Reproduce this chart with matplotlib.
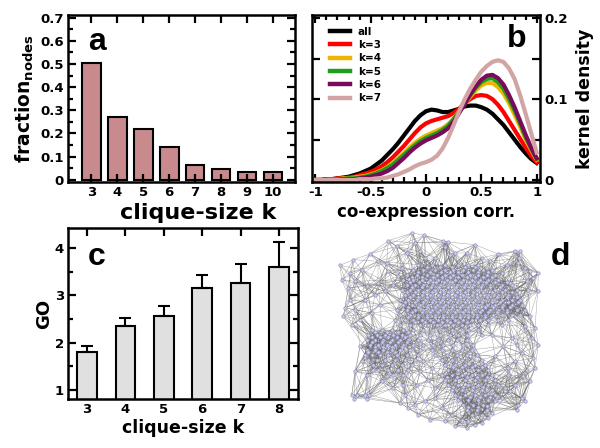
import numpy as np
import matplotlib
matplotlib.use("Agg")
import matplotlib.pyplot as plt
from matplotlib.ticker import MultipleLocator, FixedLocator, FuncFormatter
from matplotlib.collections import LineCollection

plt.rcParams['font.family'] = ['DejaVu Sans']
plt.rcParams['font.weight'] = 'bold'
plt.rcParams['axes.unicode_minus'] = False
plt.rcParams['mathtext.fontset'] = 'custom'
plt.rcParams['mathtext.rm'] = 'DejaVu Sans:bold'
plt.rcParams['mathtext.bf'] = 'DejaVu Sans:bold'
plt.rcParams['mathtext.it'] = 'DejaVu Sans:bold'

# ---------------- data ----------------
# panel a
k_a = [3, 4, 5, 6, 7, 8, 9, 10]
frac_nodes = [0.505, 0.270, 0.220, 0.140, 0.065, 0.045, 0.035, 0.035]

# panel b (kernel density of co-expression correlation)
corr = [-1.00, -0.95, -0.90, -0.85, -0.80, -0.75, -0.70, -0.65, -0.60, -0.55, -0.50,
        -0.45, -0.40, -0.35, -0.30, -0.25, -0.20, -0.15, -0.10, -0.05, 0.00,
        0.05, 0.10, 0.15, 0.20, 0.25, 0.30, 0.35, 0.40, 0.45, 0.50,
        0.55, 0.60, 0.65, 0.70, 0.75, 0.80, 0.85, 0.90, 0.95, 1.00]
dens_all = [0.000, 0.000, 0.001, 0.001, 0.002, 0.003, 0.004, 0.006, 0.008, 0.011, 0.014,
            0.019, 0.024, 0.031, 0.038, 0.046, 0.055, 0.064, 0.073, 0.080, 0.085,
            0.087, 0.086, 0.084, 0.084, 0.086, 0.088, 0.091, 0.092, 0.092, 0.090,
            0.087, 0.082, 0.075, 0.068, 0.059, 0.050, 0.041, 0.033, 0.026, 0.021]
dens_k3 = [0.000, 0.000, 0.001, 0.001, 0.002, 0.002, 0.003, 0.004, 0.006, 0.008, 0.010,
           0.013, 0.017, 0.022, 0.028, 0.035, 0.042, 0.050, 0.058, 0.065, 0.070,
           0.073, 0.075, 0.077, 0.079, 0.083, 0.088, 0.095, 0.100, 0.104, 0.105,
           0.104, 0.100, 0.093, 0.084, 0.073, 0.062, 0.051, 0.040, 0.030, 0.022]
dens_k4 = [0.000, 0.000, 0.000, 0.001, 0.001, 0.002, 0.002, 0.003, 0.004, 0.005, 0.007,
           0.009, 0.012, 0.016, 0.021, 0.027, 0.033, 0.040, 0.046, 0.051, 0.055,
           0.058, 0.061, 0.064, 0.069, 0.076, 0.085, 0.094, 0.103, 0.111, 0.117,
           0.120, 0.120, 0.115, 0.107, 0.095, 0.081, 0.066, 0.050, 0.037, 0.025]
dens_k5 = [0.000, 0.000, 0.000, 0.001, 0.001, 0.001, 0.002, 0.002, 0.003, 0.004, 0.006,
           0.008, 0.011, 0.015, 0.019, 0.025, 0.031, 0.037, 0.043, 0.048, 0.052,
           0.055, 0.058, 0.062, 0.067, 0.075, 0.084, 0.095, 0.105, 0.114, 0.121,
           0.125, 0.126, 0.121, 0.113, 0.100, 0.086, 0.070, 0.053, 0.039, 0.026]
dens_k6 = [0.000, 0.000, 0.000, 0.000, 0.000, 0.001, 0.001, 0.001, 0.002, 0.003, 0.004,
           0.006, 0.008, 0.011, 0.015, 0.021, 0.027, 0.034, 0.040, 0.045, 0.049,
           0.052, 0.055, 0.059, 0.064, 0.072, 0.083, 0.094, 0.106, 0.116, 0.124,
           0.129, 0.130, 0.126, 0.118, 0.105, 0.090, 0.073, 0.056, 0.040, 0.027]
dens_k7 = [0.000, 0.000, 0.000, 0.000, 0.000, 0.000, 0.000, 0.000, 0.001, 0.001, 0.001,
           0.002, 0.002, 0.003, 0.005, 0.007, 0.010, 0.013, 0.017, 0.020, 0.022,
           0.025, 0.030, 0.039, 0.052, 0.068, 0.085, 0.100, 0.113, 0.124, 0.134,
           0.141, 0.146, 0.148, 0.146, 0.138, 0.125, 0.105, 0.082, 0.058, 0.034]
series_labels = ['all', 'k=3', 'k=4', 'k=5', 'k=6', 'k=7']
series_colors = ['#000000', '#ff0000', '#f0b400', '#1e9e1e', '#7a0a5c', '#d2a4a4']

# panel c
k_c = [3, 4, 5, 6, 7, 8]
go_mean = [1.80, 2.35, 2.57, 3.15, 3.25, 3.60]
go_upper = [1.93, 2.53, 2.77, 3.42, 3.67, 4.13]

# panel d (network drawing) - hand-placed node positions (image coordinates)
outer_nodes = [
    (160, 38), (185, 55), (232, 15), (268, 22), (240, 45), (255, 70), (215, 75), (325, 40),
    (338, 42), (330, 58), (420, 50), (440, 90), (465, 100), (490, 78), (540, 68), (556, 70),
    (552, 90), (360, 75), (345, 80), (300, 90), (270, 90), (395, 75),
    (15, 112), (55, 95), (105, 78), (130, 100), (155, 105), (80, 125), (45, 135), (20, 155),
    (60, 160), (95, 175), (40, 180), (130, 165), (150, 190), (175, 170), (160, 130), (200, 120),
    (190, 145), (45, 215), (30, 240), (60, 245), (25, 265), (75, 275), (50, 290), (110, 255),
    (135, 230), (90, 215), (120, 200),
    (570, 120), (585, 130), (610, 135), (595, 150), (575, 160), (608, 190), (580, 185),
    (525, 165), (500, 135), (515, 110), (550, 105), (585, 265), (570, 295), (600, 300),
    (590, 330), (610, 350), (560, 375), (595, 390), (540, 400), (575, 425), (600, 420),
    (565, 445), (585, 460), (540, 470), (520, 440), (525, 490), (560, 510), (570, 518),
    (548, 530), (545, 545), (530, 330), (505, 355), (480, 385), (470, 320), (545, 350),
    (75, 355), (80, 400), (60, 430), (95, 440), (140, 460), (175, 480), (205, 470), (210, 500),
    (220, 540), (240, 530), (195, 525), (155, 445), (115, 425), (90, 380),
    (50, 500), (65, 500), (58, 512), (90, 500), (103, 500), (97, 513),
    (270, 520), (300, 510), (320, 540), (350, 560), (380, 575), (400, 580), (420, 590),
    (440, 585), (460, 570), (470, 555), (455, 535), (480, 520), (500, 510), (510, 480),
    (490, 470), (520, 420), (250, 560), (285, 575), (330, 580), (360, 595), (395, 600),
    (255, 430), (280, 455), (300, 480), (265, 400), (290, 420), (245, 470),
]
core_rows = {
    110: [250, 290, 330, 370, 400, 430],
    117: [275, 315, 350, 390, 420],
    125: [235, 265, 300, 330, 355, 385, 415, 445, 470],
    132: [250, 285, 318, 345, 370, 398, 430, 460],
    140: [215, 245, 275, 305, 330, 355, 380, 405, 430, 455, 480],
    147: [230, 262, 295, 320, 345, 370, 395, 420, 445, 470],
    155: [205, 235, 260, 285, 310, 335, 360, 385, 410, 435, 460, 490],
    162: [225, 252, 278, 302, 328, 352, 378, 402, 428, 452, 480, 515],
    170: [215, 240, 265, 290, 315, 340, 365, 390, 415, 440, 465, 500, 530],
    177: [230, 262, 288, 312, 338, 362, 388, 412, 438, 465, 495],
    185: [200, 225, 250, 275, 300, 325, 350, 375, 400, 425, 450, 480, 510, 545],
    192: [215, 240, 265, 290, 315, 340, 365, 390, 415, 445, 470, 500, 530],
    200: [210, 235, 260, 285, 310, 335, 360, 385, 410, 435, 460, 490, 520],
    207: [225, 250, 275, 300, 325, 350, 375, 400, 425, 455, 485, 515, 545],
    215: [195, 220, 245, 270, 295, 320, 345, 370, 395, 420, 445, 470, 500, 530, 555],
    222: [210, 240, 265, 290, 315, 340, 365, 390, 415, 440, 470, 495, 520, 548],
    230: [205, 230, 255, 280, 305, 330, 355, 380, 405, 430, 455, 480, 505, 530, 560],
    237: [220, 250, 275, 300, 325, 350, 375, 400, 425, 450, 475, 500, 525],
    245: [185, 215, 240, 265, 290, 315, 340, 365, 390, 415, 440, 465, 490, 515, 545, 570],
    252: [230, 260, 285, 310, 335, 360, 385, 410, 435, 460, 485, 515],
    260: [195, 225, 250, 275, 300, 325, 350, 375, 400, 425, 450, 475, 500, 530, 555],
    267: [220, 250, 275, 300, 325, 350, 375, 400, 425, 450],
    275: [180, 210, 235, 260, 285, 310, 335, 360, 385, 410, 435, 460, 490, 520],
    282: [240, 270, 295, 320, 345, 370, 395],
    290: [195, 225, 255, 280, 305, 330, 355, 380, 405, 430, 460, 500],
    305: [110, 140, 170, 205, 235, 265, 295, 325, 350, 375, 400, 430],
    312: [120, 155, 190, 220],
    320: [100, 125, 150, 175, 200, 225, 255, 285, 315, 345, 370, 395, 440],
    327: [110, 135, 160, 185, 210],
    335: [95, 120, 145, 170, 195, 220, 250, 280, 310, 340, 365, 395],
    342: [110, 140, 165, 190, 215],
    350: [105, 130, 155, 180, 205, 235, 265, 295, 325, 355, 385, 415],
    357: [120, 145, 170, 200],
    365: [95, 120, 145, 170, 195, 225, 255, 290, 320, 350, 380, 410],
    372: [100, 130, 155, 180],
    380: [110, 135, 160, 185, 215, 250, 300, 335, 365, 395, 425],
    395: [100, 125, 150, 180, 210, 240, 320, 350, 380, 410, 440],
    410: [115, 140, 170, 200, 230, 330, 360, 390, 420, 450],
    417: [355, 380, 410, 440],
    425: [130, 160, 190, 220, 340, 370, 400, 430, 460],
    440: [175, 205, 320, 350, 380, 410, 440, 470],
    447: [335, 365, 395, 425, 455],
    455: [330, 360, 390, 420, 450, 480],
    470: [340, 370, 400, 430, 460],
    477: [355, 385, 415, 445],
    485: [350, 380, 410, 440, 470],
    500: [360, 390, 420, 450, 480],
    507: [375, 405, 435, 465],
    515: [370, 400, 430, 460],
    530: [385, 415, 445],
    537: [400, 430],
    545: [395, 425, 455],
    560: [410, 440],
}

# ---------------- figure ----------------
fig = plt.figure(figsize=(6.0, 4.48), dpi=100)
W, H = 600.0, 448.0
LETTER = dict(fontsize=23, fontweight='bold', family=['Liberation Sans', 'DejaVu Sans'])


def px_axes(l, t, r, b):
    return fig.add_axes([l / W, 1 - b / H, (r - l) / W, (b - t) / H])


def style_frame(ax):
    for s in ax.spines.values():
        s.set_linewidth(1.8)
    ax.tick_params(which='both', direction='in', width=1.6, top=True, right=True,
                   labelsize=9.5, pad=3)
    ax.tick_params(which='major', length=6)
    ax.tick_params(which='minor', length=3.5)
    for lab in ax.get_xticklabels() + ax.get_yticklabels():
        lab.set_fontweight('bold')


# ---- panel a ----
axa = px_axes(68, 15, 295, 182)
axa.bar(k_a, frac_nodes, width=0.72, color='#c98a8d', edgecolor='black', linewidth=1.5, zorder=2)
axa.set_xlim(2.1, 10.85)
axa.set_ylim(-0.01, 0.712)
axa.xaxis.set_major_locator(FixedLocator(k_a))
axa.yaxis.set_major_locator(MultipleLocator(0.1))
axa.yaxis.set_minor_locator(MultipleLocator(0.05))
axa.yaxis.set_major_formatter(FuncFormatter(lambda v, p: '0' if abs(v) < 1e-9 else f'{v:.1f}'))
style_frame(axa)
axa.set_axisbelow(False)
axa.set_xlabel('clique-size k', fontsize=16, fontweight='bold', labelpad=1)
axa.xaxis.set_label_coords(0.575, -0.125)
axa.set_ylabel('fraction$_{\\mathrm{nodes}}$', fontsize=13.5, fontweight='bold', labelpad=3)
axa.text(0.09, 0.79, 'a', transform=axa.transAxes, **LETTER)

# ---- panel b ----
axb = px_axes(312, 15, 540, 182)
all_dens = [dens_all, dens_k3, dens_k4, dens_k5, dens_k6, dens_k7]
for d, lab, col in zip(all_dens, series_labels, series_colors):
    axb.plot(corr, d, color=col, lw=3.0, label=lab)
axb.set_xlim(-1.03, 1.03)
axb.set_ylim(-0.0025, 0.204)
axb.xaxis.set_major_locator(MultipleLocator(0.5))
axb.xaxis.set_minor_locator(MultipleLocator(0.1))
axb.xaxis.set_major_formatter(FuncFormatter(lambda v, p: f'{v:g}'))
axb.yaxis.set_major_locator(MultipleLocator(0.05))
axb.yaxis.set_major_formatter(FuncFormatter(
    lambda v, p: ('0' if abs(v) < 1e-9 else f'{v:.1f}') if abs(round(v / 0.1) * 0.1 - v) < 1e-6 else ''))
style_frame(axb)
axb.tick_params(axis='y', labelleft=False, labelright=True)
axb.yaxis.set_label_position('right')
axb.set_xlabel('co-expression corr.', fontsize=12, fontweight='bold', labelpad=3)
axb.set_ylabel('kernel density', fontsize=12.5, fontweight='bold', labelpad=6)
axb.text(0.855, 0.808, 'b', transform=axb.transAxes, **LETTER)
leg = axb.legend(loc='upper left', frameon=False, fontsize=7.5, handlelength=1.9,
                 handletextpad=0.75, labelspacing=0.32, borderaxespad=0.0,
                 bbox_to_anchor=(0.062, 0.955))
for t in leg.get_texts():
    t.set_fontweight('bold')
for ln in leg.get_lines():
    ln.set_linewidth(3.2)

# ---- panel c ----
axc = px_axes(68, 228, 298, 399)
err_low = [0.0] * len(go_mean)
err_up = [u - m for u, m in zip(go_upper, go_mean)]
axc.bar(k_c, go_mean, width=0.52, color='#e0e0e0', edgecolor='black', linewidth=1.5, zorder=2)
axc.errorbar(k_c, go_mean, yerr=[err_low, err_up], fmt='none', ecolor='black',
             elinewidth=1.5, capsize=4.5, capthick=1.5, zorder=3)
axc.set_xlim(2.5, 8.5)
axc.set_ylim(0.81, 4.42)
axc.xaxis.set_major_locator(FixedLocator(k_c))
axc.yaxis.set_major_locator(MultipleLocator(1))
axc.yaxis.set_minor_locator(MultipleLocator(0.5))
style_frame(axc)
axc.set_xlabel('clique-size k', fontsize=12.5, fontweight='bold', labelpad=2)
axc.set_ylabel('GO', fontsize=13, fontweight='bold', labelpad=1)
axc.text(0.085, 0.784, 'c', transform=axc.transAxes, **LETTER)

# ---- panel d ----
axd = px_axes(335, 228, 545, 430)
nodes = list(outer_nodes)
for yy, xs in core_rows.items():
    for xx in xs:
        nodes.append((xx, yy))
P = np.array(nodes, dtype=float)
D = np.sqrt(((P[:, None, :] - P[None, :, :]) ** 2).sum(-1))
np.fill_diagonal(D, np.inf)
order = np.argsort(D, axis=1)
segs = set()
for i in range(len(P)):
    for j in order[i, :8]:
        if D[i, j] < 95:
            segs.add((min(i, j), max(i, j)))
    for j in order[i, 12:16]:
        if D[i, j] < 100:
            segs.add((min(i, j), max(i, j)))
    for j in order[i, 25:27]:
        if D[i, j] < 150:
            segs.add((min(i, j), max(i, j)))
lines = [[P[i], P[j]] for i, j in sorted(segs)]
axd.add_collection(LineCollection(lines, colors='#606060', linewidths=0.3, alpha=0.65, zorder=1))
axd.scatter(P[:, 0], P[:, 1], s=6, facecolor='#cdcdee', edgecolor='#8a8ab8', linewidths=0.45, zorder=2)
axd.set_xlim(0, 630)
axd.set_ylim(606, 0)
axd.axis('off')
fig.text(551 / W, 1 - 265 / H, 'd', **LETTER)

fig.savefig('out.png', dpi=100)
